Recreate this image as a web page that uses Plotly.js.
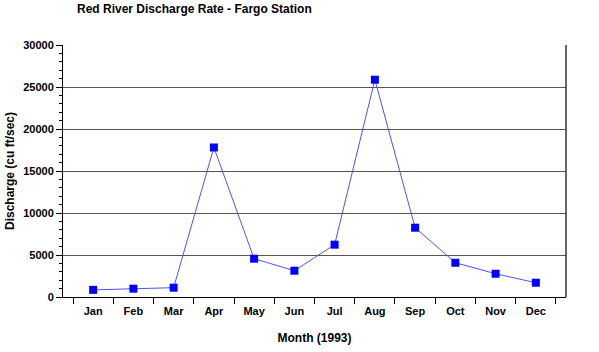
<!DOCTYPE html>
<html><head><meta charset="utf-8">
<script src="https://cdn.plot.ly/plotly-3.0.1.min.js"></script>
<style>html,body{margin:0;padding:0;background:#fff}</style>
</head><body>
<div id="chart" style="width:599px;height:352px"></div>
<script>
const months = ["Jan","Feb","Mar","Apr","May","Jun","Jul","Aug","Sep","Oct","Nov","Dec"];
const discharge = [850, 990, 1110, 17800, 4560, 3130, 6230, 25870, 8250, 4080, 2770, 1700];
const yTickVals = [0, 5000, 10000, 15000, 20000, 25000, 30000];

const fontFam = "Liberation Sans, Arial, Helvetica, sans-serif";
const trace = {
  x: months, y: discharge, type: "scatter", mode: "lines+markers",
  line: {color: "rgb(80,80,255)", width: 1},
  marker: {symbol: "square", size: 8, color: "#0000ff"},
  hoverinfo: "none"
};
const layout = {
  width: 599, height: 352,
  margin: {l: 63, r: 33, t: 45, b: 55},
  paper_bgcolor: "#fff", plot_bgcolor: "#fff",
  showlegend: false,
  font: {family: fontFam, size: 11, color: "#000", weight: "bold"},
  title: {text: "Red River Discharge Rate - Fargo Station", x: 0, xref: "container", xanchor: "left",
          y: 0.975, yanchor: "middle", pad: {l: 77},
          font: {family: fontFam, size: 12, color: "#000", weight: "bold"}},
  xaxis: {
    type: "category", categoryorder: "array", categoryarray: months,
    showline: true, linecolor: "#000", linewidth: 1, mirror: false,
    ticks: "outside", tickson: "boundaries", ticklen: 6, tickcolor: "#000",
    ticklabelstandoff: 4,
    showgrid: false, zeroline: false,
    tickfont: {family: fontFam, size: 11, color: "#000", weight: "bold"},
    title: {text: "Month (1993)", standoff: 17, font: {family: fontFam, size: 12, color: "#000", weight: "bold"}}
  },
  yaxis: {
    range: [0, 30000], tickvals: yTickVals, tickformat: "d",
    showline: true, linecolor: "#000", linewidth: 1,
    ticks: "outside", ticklen: 6, tickcolor: "#000",
    minor: {dtick: 1000, ticks: "outside", ticklen: 3, tickcolor: "#000", showgrid: false},
    showgrid: true, gridcolor: "#555", gridwidth: 1, zeroline: false,
    tickfont: {family: fontFam, size: 11, color: "#000", weight: "bold"},
    title: {text: "Discharge (cu ft/sec)", standoff: 6, font: {family: fontFam, size: 12, color: "#000", weight: "bold"}}
  },
  shapes: [
    {type: "line", xref: "paper", yref: "paper", x0: 1, x1: 1, y0: 0, y1: 1, line: {color: "#333", width: 1.5}}
  ]
};
Plotly.newPlot("chart", [trace], layout, {staticPlot: true, displayModeBar: false});
</script>
</body></html>
